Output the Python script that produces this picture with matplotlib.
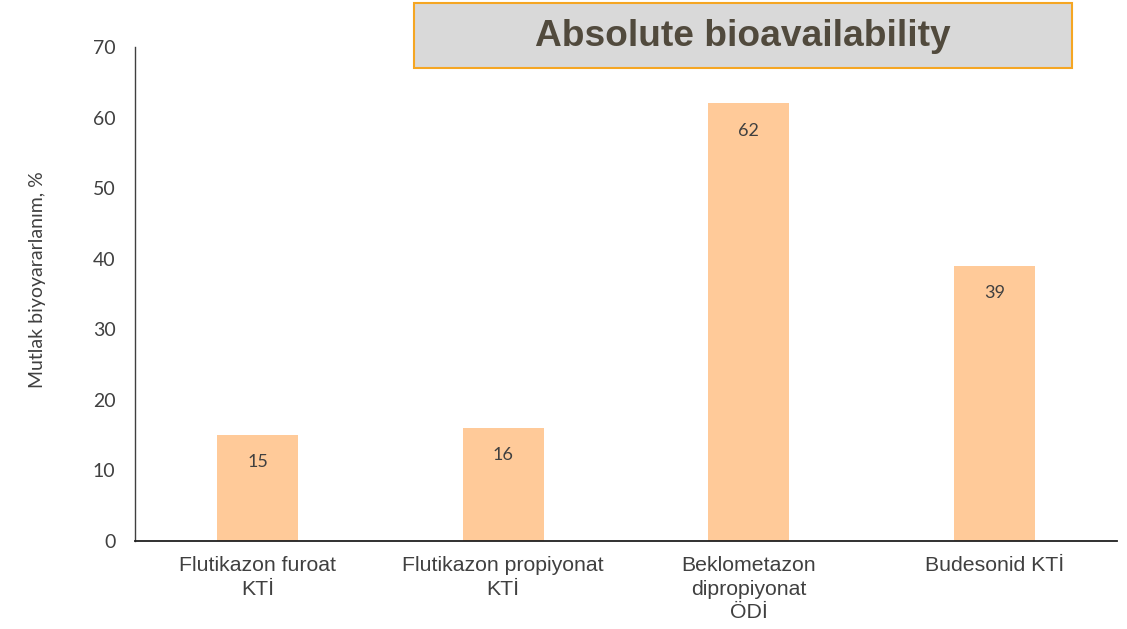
import matplotlib.pyplot as plt
from matplotlib.patches import Rectangle

categories = ["Flutikazon furoat\nKTİ", "Flutikazon propiyonat\nKTİ",
              "Beklometazon\ndipropiyonat\nÖDİ", "Budesonid KTİ"]
values = [15, 16, 62, 39]
y_ticks = [0, 10, 20, 30, 40, 50, 60, 70]

fig = plt.figure(figsize=(11.27, 6.29), dpi=100)
ax = fig.add_axes([135 / 1127, 88 / 629, 982 / 1127, 494 / 629])

x = list(range(len(categories)))
bars = ax.bar(x, values, width=0.33, color="#ffca99")

for xi, v in zip(x, values):
    ax.annotate(str(v), (xi, v), xytext=(0, -19.5), textcoords="offset points",
                ha="center", va="center", fontsize=13, color="#404040", family="Lato")

ax.set_xlim(-0.5, 3.5)
ax.set_ylim(0, 70)
ax.set_yticks(y_ticks)
ax.set_xticks(x)
ax.set_xticklabels(categories, fontsize=15.3, color="#404040", family="Liberation Sans",
                   va="top", linespacing=1.3)
ax.tick_params(axis="both", length=0)
ax.tick_params(axis="y", pad=14, labelsize=14, labelcolor="#404040")
ax.tick_params(axis="x", pad=11)
for lbl in ax.get_yticklabels():
    lbl.set_family("Lato")

ax.spines["top"].set_visible(False)
ax.spines["right"].set_visible(False)
ax.spines["left"].set_color("#404040")
ax.spines["bottom"].set_color("#202020")
ax.spines["left"].set_linewidth(1.0)
ax.spines["bottom"].set_linewidth(1.3)

ax.set_ylabel("Mutlak biyoyararlanım, %", fontsize=14, color="#404040", family="Lato")
ax.yaxis.set_label_coords(-0.091, 0.53)

# title box
fig.patches.append(Rectangle((414 / 1127, 1 - 68 / 629), 658 / 1127, 65 / 629,
                             transform=fig.transFigure, facecolor="#d9d9d9",
                             edgecolor="#f5a623", linewidth=1.5))
fig.text(743 / 1127, 1 - 37 / 629, "Absolute bioavailability", ha="center", va="center",
         fontsize=26.7, fontweight="bold", color="#514a3d", family="Liberation Sans")

fig.savefig("out.png", dpi=100)
